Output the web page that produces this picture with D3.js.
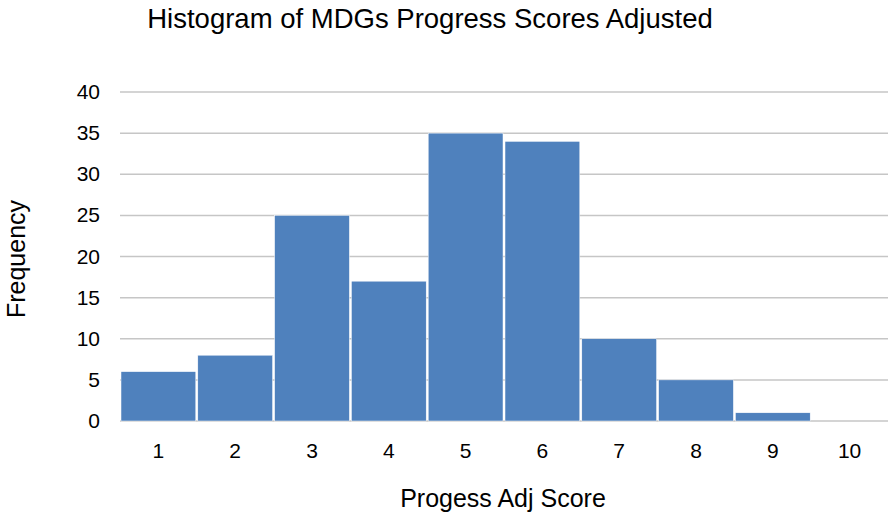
<!DOCTYPE html>
<html>
<head>
<meta charset="utf-8">
<script src="https://cdn.jsdelivr.net/npm/d3@7"></script>
<style>
  body { margin: 0; background: #fff; }
  text { font-family: "Liberation Sans", Arial, sans-serif; fill: #000; }
</style>
</head>
<body>
<svg width="890" height="514"></svg>
<script>
  var bins = ["1", "2", "3", "4", "5", "6", "7", "8", "9", "10"];
  var counts = [6, 8, 25, 17, 35, 34, 10, 5, 1, 0];
  var yTicks = [0, 5, 10, 15, 20, 25, 30, 35, 40];

  var svg = d3.select("svg"),
      plotLeft = 120, plotRight = 888, plotTop = 92, plotBottom = 421;

  var x = d3.scaleBand().domain(bins).range([plotLeft, plotRight]).padding(0);
  var y = d3.scaleLinear().domain([0, 40]).range([plotBottom, plotTop]);

  // gridlines
  svg.append("g")
     .selectAll("line")
     .data(yTicks)
     .enter().append("line")
     .attr("x1", plotLeft).attr("x2", plotRight)
     .attr("y1", function(d) { return y(d); })
     .attr("y2", function(d) { return y(d); })
     .attr("stroke", "#c6c6c6")
     .attr("stroke-width", 1.5);

  // bars
  svg.append("g")
     .selectAll("rect")
     .data(counts)
     .enter().append("rect")
     .attr("x", function(d, i) { return x(bins[i]) + 1; })
     .attr("width", x.bandwidth() - 2)
     .attr("y", function(d) { return y(d); })
     .attr("height", function(d) { return y(0) - y(d); })
     .attr("fill", "#4f81bd")
     .attr("stroke", "#fff")
     .attr("stroke-width", 0.5);

  // y tick labels
  svg.append("g")
     .selectAll("text")
     .data(yTicks)
     .enter().append("text")
     .attr("x", 100)
     .attr("y", function(d) { return y(d) + 7; })
     .attr("text-anchor", "end")
     .style("font-size", "21px")
     .text(function(d) { return d; });

  // x tick labels
  svg.append("g")
     .selectAll("text")
     .data(bins)
     .enter().append("text")
     .attr("x", function(d) { return x(d) + x.bandwidth() / 2; })
     .attr("y", 458)
     .attr("text-anchor", "middle")
     .style("font-size", "21px")
     .text(function(d) { return d; });

  svg.append("text")
     .attr("x", 430).attr("y", 28)
     .attr("text-anchor", "middle")
     .style("font-size", "27.5px")
     .text("Histogram of MDGs Progress Scores Adjusted");

  svg.append("text")
     .attr("x", 503).attr("y", 507)
     .attr("text-anchor", "middle")
     .style("font-size", "25px")
     .text("Progess Adj Score");

  svg.append("text")
     .attr("transform", "translate(25,259) rotate(-90)")
     .attr("text-anchor", "middle")
     .style("font-size", "25px")
     .text("Frequency");
</script>
</body>
</html>
